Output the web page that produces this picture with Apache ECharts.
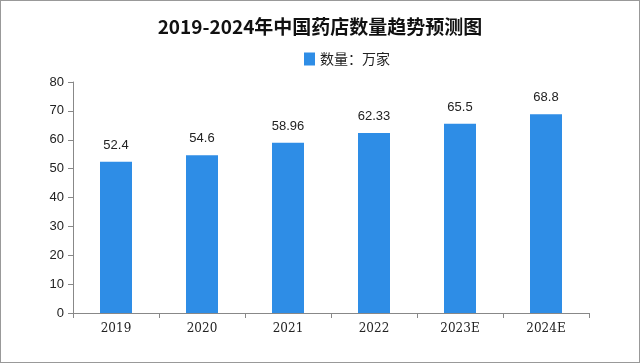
<!DOCTYPE html>
<html><head><meta charset="utf-8">
<script src="https://cdn.jsdelivr.net/npm/echarts@6/dist/echarts.min.js"></script>
<style>html,body{margin:0;padding:0;background:#fff}#c{width:638px;height:361px;border:1px solid #999}</style>
</head><body><div id="c"></div>
<script>
const categories = ['2019','2020','2021','2022','2023E','2024E'];
const values = [52.4, 54.6, 58.96, 62.33, 65.5, 68.8];
const labels = ['52.4','54.6','58.96','62.33','65.5','68.8'];
const chart = echarts.init(document.getElementById('c'));
chart.setOption({
  animation:false,
  title:{text:'2019-2024年中国药店数量趋势预测图',left:'center',top:11,
    textStyle:{fontFamily:'Noto Sans CJK SC',fontSize:19,fontWeight:'bold',color:'#111'}},
  legend:{data:['数量：万家'],top:46,left:298,icon:'rect',itemWidth:11,itemHeight:13,itemGap:3,
    textStyle:{fontFamily:'Noto Sans CJK SC',fontSize:14,color:'#222'}},
  grid:{left:72,right:50,top:81,bottom:49},
  xAxis:{type:'category',data:categories,
    axisLine:{lineStyle:{color:'#888'}},axisTick:{show:true,length:5,lineStyle:{color:'#888'}},
    axisLabel:{color:'#222',fontSize:12,fontFamily:'DejaVu Serif',margin:10}},
  yAxis:{type:'value',min:0,max:80,interval:10,
    axisLine:{show:true,lineStyle:{color:'#888'}},axisTick:{show:true,length:5,lineStyle:{color:'#888'}},
    splitLine:{show:false},axisLabel:{color:'#222',fontSize:13,fontFamily:'Liberation Sans',margin:9}},
  series:[{name:'数量：万家',type:'bar',data:values,barWidth:32,
    itemStyle:{color:'#2E8DE6'},
    label:{show:true,position:'top',distance:10,color:'#222',fontSize:13,fontFamily:'Liberation Sans',
      formatter:p=>labels[p.dataIndex]}}]
});
</script></body></html>
